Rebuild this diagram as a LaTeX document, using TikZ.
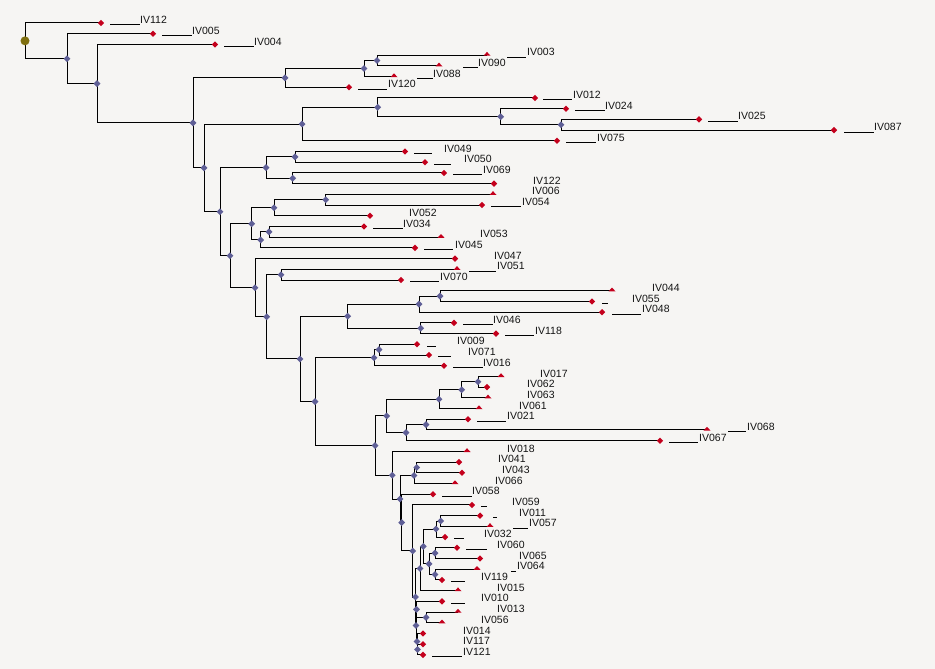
\documentclass[tikz,border=0pt]{standalone}
\usepackage{fontspec}
\setmainfont{Liberation Sans}
\usetikzlibrary{shapes.geometric}
\definecolor{bg}{RGB}{246,245,243}
\definecolor{nodeblue}{RGB}{95,95,150}
\definecolor{tipred}{RGB}{196,0,28}
\definecolor{rootolive}{RGB}{128,112,16}
\definecolor{txt}{RGB}{20,20,20}
\tikzset{
  branch/.style={draw=black, line width=1pt},
  inode/.style={diamond, fill=nodeblue, inner sep=0pt, minimum width=7pt, minimum height=7pt},
  tipf/.style={diamond, fill=tipred, inner sep=0pt, minimum width=6.5pt, minimum height=6.5pt},
  tiph/.style={fill=tipred},
  rootdot/.style={circle, fill=rootolive, inner sep=0pt, minimum size=9pt},
  ulline/.style={draw=black, line width=0.8pt},
  lbl/.style={anchor=base west, inner sep=0pt, text=txt, font=\fontsize{10.5}{12}\selectfont},
}
\def\leafdata{IV112/101/f/110/140/140,IV005/153/f/162/192/192,IV004/215/f/224/254/254,IV003/487/h/507/526/527,IV090/439/h/463/478/478,IV088/394/h/417/433/433,IV120/349/f/358/387/388,IV012/535/f/543/572/573,IV024/566/f/575/605/605,IV025/699/f/708/738/738,IV087/834/f/844/874/874,IV075/557/f/566/596/597,IV049/405/f/414/432/444,IV050/425/f/434/451/464,IV069/444/f/453/482/483,IV122/494/f/0/0/533,IV006/493/h/0/0/532,IV054/482/f/491/521/522,IV052/370/f/0/0/409,IV034/364/f/373/403/403,IV053/441/h/0/0/480,IV045/415/f/424/453/455,IV047/455/f/0/0/494,IV051/457/h/469/496/497,IV070/401/f/410/439/440,IV044/612/h/0/0/652,IV055/592/f/602/608/632,IV048/602/f/612/641/642,IV046/454/f/463/493/493,IV118/496/f/505/534/535,IV009/417/f/427/436/457,IV071/429/f/438/451/468,IV016/444/f/453/483/483,IV017/501/h/0/0/540,IV062/487/f/0/0/527,IV063/488/h/0/0/527,IV061/479/h/0/0/519,IV021/468/f/477/506/507,IV068/707/h/728/746/747,IV067/660/f/669/698/699,IV018/467/h/0/0/507,IV041/459/f/0/0/498,IV043/462/f/0/0/502,IV066/455/h/0/0/495,IV058/433/f/442/472/472,IV059/472/f/481/487/512,IV011/480/f/493/497/519,IV057/490/h/513/528/529,IV032/445/f/454/464/484,IV060/457/f/466/487/497,IV065/480/f/0/0/519,IV064/477/h/511/516/517,IV119/442/f/451/465/481,IV015/458/h/0/0/497,IV010/442/f/451/465/481,IV013/458/h/0/0/497,IV056/442/h/0/0/481,IV014/423/f/0/0/463,IV117/423/f/0/0/463,IV121/423/f/432/462/463}
\def\innerdata{R/25/40.85,A/67/58.69,B/97/83.66,C/193/122.89,D/285/77.89,D1/364/68.52,D2/377/60.49,E/204/167.88,F/302/124.08,F1/377.7/107.34,F2/500.7/116.71,F3/561/124.75,G/220/211.68,G1/266/167.59,G2/295/156.88,G3/292.7/178.30,H/230/255.77,H1/251.7/223.82,H2/274/207.75,H4/325.7/199.72,H3/260.7/239.88,H5/269/231.85,I/255/287.72,J/266.7/316.81,K/281/274.69,L/300/358.92,M/347.7/316.19,M1/419/304.14,M3/440/296.11,M2/420.7/328.24,N/315/401.64,O/374/357.69,Q/379/349.66,P/375/445.58,P1/386.7/415.93,P2/439/399.19,P4/461.7/389.82,P5/478/381.79,P3/406/432.66,P6/426/424.63,S/392.3/475.23,S2/400/499.06,T2/414/475.50,T1/416.7/467.47,S3/401.7/522.61,S4/412.7/550.98,V1/415.5/597.00,U7/420/568.55,U6/423.3/546.46,U2/436/529.05,U1/440.7/521.02,U5/429/563.86,U3/435/553.15,U4/435/574.57,V2/416/625.45,V3/416.5/609.38,V4/426/617.41,V5/417/641.51,V6/417.5/649.54}
\def\edgedata{R/IV112,R/A,A/IV005,A/B,B/IV004,B/C,C/D,C/E,D/D1,D/IV120,D1/D2,D1/IV088,D2/IV003,D2/IV090,E/F,E/G,F/F1,F/IV075,F1/IV012,F1/F2,F2/IV024,F2/F3,F3/IV025,F3/IV087,G/G1,G/H,G1/G2,G1/G3,G2/IV049,G2/IV050,G3/IV069,G3/IV122,H/H1,H/I,H1/H2,H1/H3,H2/H4,H2/IV052,H4/IV006,H4/IV054,H3/H5,H3/IV045,H5/IV034,H5/IV053,I/IV047,I/J,J/K,J/L,K/IV051,K/IV070,L/M,L/N,M/M1,M/M2,M1/M3,M1/IV048,M3/IV044,M3/IV055,M2/IV046,M2/IV118,N/O,N/P,O/Q,O/IV016,Q/IV009,Q/IV071,P/P1,P/S,P1/P2,P1/P3,P2/P4,P2/IV061,P4/P5,P4/IV063,P5/IV017,P5/IV062,P3/P6,P3/IV067,P6/IV021,P6/IV068,S/IV018,S/S2,S2/T2,S2/S3,T2/T1,T2/IV066,T1/IV041,T1/IV043,S3/IV058,S3/S4,S4/IV059,S4/V1,V1/U7,V1/V2,U7/U6,U7/IV015,U6/U2,U6/U5,U2/U1,U2/IV032,U1/IV011,U1/IV057,U5/U3,U5/U4,U3/IV060,U3/IV065,U4/IV064,U4/IV119,V2/V3,V2/V5,V3/IV010,V3/V4,V4/IV013,V4/IV056,V5/IV014,V5/V6,V6/IV117,V6/IV121}
\begin{document}
\begin{tikzpicture}[x=1pt,y=-1pt]
\fill[bg] (0,0) rectangle (935,669);
\useasboundingbox (0,0) rectangle (935,669);
% leaf coordinates, underlines and labels
\foreach \nn/\tx/\kk/\da/\db/\lx [count=\ii from 0] in \leafdata {
  \pgfmathsetmacro{\yy}{23+10.71*\ii}
  \coordinate (\nn) at (\tx,\yy);
  \node[lbl] (l\nn) at (\lx,\yy+0.6) {\nn};
  \ifnum\da>0 \draw[ulline] (\da,\yy+1.8) -- (\db,\yy+1.8); \fi
}
% internal node coordinates
\foreach \nn/\xx/\yv in \innerdata {
  \coordinate (\nn) at (\xx,\yv);
}
% branches
\foreach \pa/\ch in \edgedata {
  \draw[branch] (\pa) |- (\ch);
}
% internal node markers
\foreach \nn/\xx/\yv in \innerdata {
  \node[inode] (m\nn) at (\nn) {};
}
\node[rootdot] (mroot) at (R) {};
% tip markers
\foreach \nn/\tx/\kk/\da/\db/\lx [count=\ii from 0] in \leafdata {
  \pgfmathsetmacro{\yy}{23+10.71*\ii}
  \if h\kk
    \fill[tiph] (\tx-3.5,\yy+0.6) -- (\tx,\yy-3.2) -- (\tx+3.5,\yy+0.6) -- cycle;
  \else
    \node[tipf] (t\nn) at (\nn) {};
  \fi
}
\end{tikzpicture}
\end{document}
